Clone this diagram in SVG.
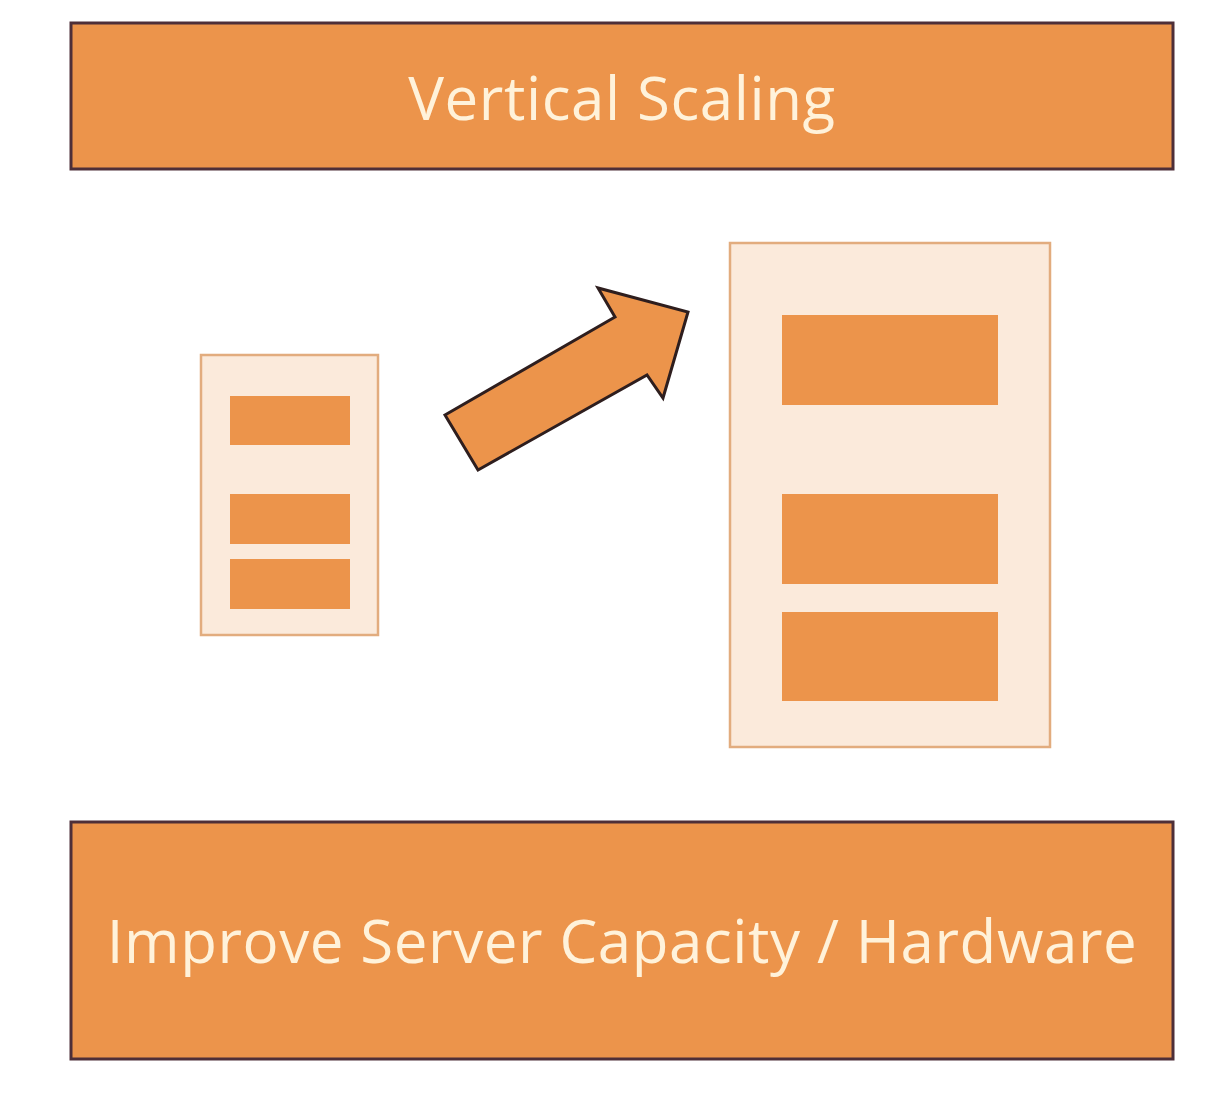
<svg xmlns="http://www.w3.org/2000/svg" width="1224" height="1094" viewBox="0 0 1224 1094">
<style>
.banner{fill:#EC944B;stroke:#4E2F38;stroke-width:3}
.label{font-family:"Open Sans","Liberation Sans",sans-serif;font-size:60px;letter-spacing:0.6px;fill:#FFF2DA;text-anchor:middle}
.server{fill:#FBEADB;stroke:#E2AC7E;stroke-width:2.5}
.slot{fill:#EC944B}
.arrow{fill:#EC944B;stroke:#2E1E1E;stroke-width:3;stroke-linejoin:miter}
</style>
<rect width="1224" height="1094" fill="#FFFFFF"/>
<g id="title">
<rect class="banner" x="71" y="23" width="1102" height="146"/>
<text class="label" x="622" y="120">Vertical Scaling</text>
</g>
<g id="small-server">
<rect class="server" x="201" y="355" width="177" height="280"/>
<rect class="slot" x="230" y="396" width="120" height="49"/>
<rect class="slot" x="230" y="494" width="120" height="50"/>
<rect class="slot" x="230" y="559" width="120" height="50"/>
</g>
<g id="large-server">
<rect class="server" x="730" y="243" width="320" height="504"/>
<rect class="slot" x="782" y="315" width="216" height="90"/>
<rect class="slot" x="782" y="494" width="216" height="90"/>
<rect class="slot" x="782" y="612" width="216" height="89"/>
</g>
<g id="connectors">
<polygon class="arrow" points="445,415 478,470 647,375 663,398 688,312 598,288 615,317"/>
</g>
<g id="caption">
<rect class="banner" x="71" y="822" width="1102" height="237"/>
<text class="label" x="622" y="963">Improve Server Capacity / Hardware</text>
</g>
</svg>
